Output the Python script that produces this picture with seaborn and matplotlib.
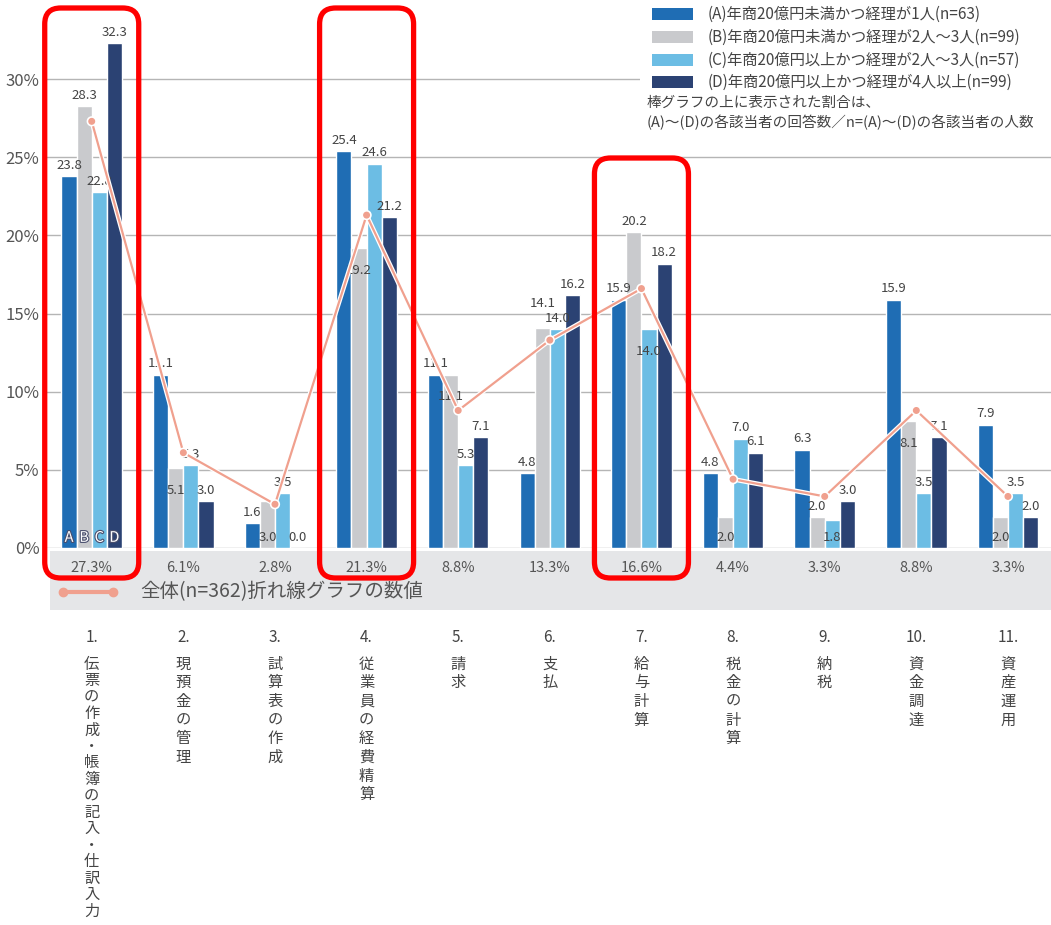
import numpy as np
import pandas as pd
import matplotlib
matplotlib.use("Agg")
import matplotlib.pyplot as plt
import matplotlib.patheffects as pe
from matplotlib import transforms
from matplotlib.patches import Rectangle, FancyBboxPatch
from matplotlib.lines import Line2D
import seaborn as sns

# ---------------- data ----------------
categories = ["1.伝票の作成・帳簿の記入・仕訳入力", "2.現預金の管理", "3.試算表の作成",
              "4.従業員の経費精算", "5.請求", "6.支払", "7.給与計算", "8.税金の計算",
              "9.納税", "10.資金調達", "11.資産運用"]
cat_nums = ["1.", "2.", "3.", "4.", "5.", "6.", "7.", "8.", "9.", "10.", "11."]
cat_names = ["伝票の作成・帳簿の記入・仕訳入力", "現預金の管理", "試算表の作成",
             "従業員の経費精算", "請求", "支払", "給与計算", "税金の計算",
             "納税", "資金調達", "資産運用"]
groups = ["A", "B", "C", "D"]
group_labels = ["(A)年商20億円未満かつ経理が1人(n=63)",
                "(B)年商20億円未満かつ経理が2人〜3人(n=99)",
                "(C)年商20億円以上かつ経理が2人〜3人(n=57)",
                "(D)年商20億円以上かつ経理が4人以上(n=99)"]
values_A = [23.8, 11.1, 1.6, 25.4, 11.1, 4.8, 15.9, 4.8, 6.3, 15.9, 7.9]
values_B = [28.3, 5.1, 3.0, 19.2, 11.1, 14.1, 20.2, 2.0, 2.0, 8.1, 2.0]
values_C = [22.8, 5.3, 3.5, 24.6, 5.3, 14.0, 14.0, 7.0, 1.8, 3.5, 3.5]
values_D = [32.3, 3.0, 0.0, 21.2, 7.1, 16.2, 18.2, 6.1, 3.0, 7.1, 2.0]
overall = [27.3, 6.1, 2.8, 21.3, 8.8, 13.3, 16.6, 4.4, 3.3, 8.8, 3.3]
yticks = [0, 5, 10, 15, 20, 25, 30]
highlight = [0, 3, 6]
overall_label = "全体(n=362)折れ線グラフの数値"
note_lines = ["棒グラフの上に表示された割合は、",
              "(A)〜(D)の各該当者の回答数／n=(A)〜(D)の各該当者の人数"]

# style: which value labels sit inside their bar / are raised (category index, group)
inside_labels = {(1, "B"), (2, "B"), (3, "B"), (4, "B"), (6, "C"),
                 (7, "B"), (8, "C"), (9, "B"), (10, "B")}
raised_labels = {(5, "B")}

colors = ["#1f6db4", "#c9cacd", "#6cbde4", "#2b4273"]
line_color = "#f0a08e"
text_color = "#444444"

# ---------------- setup ----------------
sns.set_theme(style="white")
plt.rcParams["font.family"] = ["Noto Sans CJK JP", "DejaVu Sans"]

W, H = 1051, 925
fig = plt.figure(figsize=(W / 100, H / 100), dpi=100)
fig.patch.set_facecolor("white")


def fx(x):
    return x / W


def fy(y):
    return 1 - y / H


ax = fig.add_axes([fx(45), fy(548), 1 - fx(45), 547 / H])
ax.set_facecolor("none")

df = pd.DataFrame({
    "cat": np.repeat(categories, 4),
    "group": groups * len(categories),
    "value": np.ravel(np.column_stack([values_A, values_B, values_C, values_D])),
})

sns.barplot(data=df, x="cat", y="value", hue="group", order=categories,
            hue_order=groups, palette=colors, saturation=1, width=0.66,
            ax=ax, legend=False, zorder=2)

ax.set_ylim(0, 35)
ax.set_xlim(-0.51, len(categories) - 0.53)
ax.set_yticks(yticks)
ax.set_yticklabels([f"{t}%" for t in yticks], fontsize=12, color="#555555")
ax.tick_params(axis="y", length=0, pad=4)
ax.tick_params(axis="x", length=0, labelbottom=False)
ax.set_xlabel("")
ax.set_ylabel("")
ax.yaxis.grid(True, color="#b5b5b5", linewidth=1.0, zorder=0)
ax.set_axisbelow(True)
for s in ax.spines.values():
    s.set_visible(False)

# bar value labels
for cont, g in zip(ax.containers, groups):
    for i, bar in enumerate(cont.patches):
        v = bar.get_height()
        xc = bar.get_x() + bar.get_width() / 2
        if (i, g) in inside_labels:
            if v >= 5:
                ax.text(xc, v - 1.0, f"{v:.1f}", ha="center", va="top",
                        fontsize=9.5, color=text_color, zorder=4)
            else:
                ax.text(xc, 0.25, f"{v:.1f}", ha="center", va="bottom",
                        fontsize=9.5, color=text_color, zorder=4)
        else:
            pad = 13 if (i, g) in raised_labels else 3
            ax.annotate(f"{v:.1f}", (xc, v), xytext=(0, pad), textcoords="offset points",
                        ha="center", va="bottom", fontsize=9.5, color=text_color,
                        zorder=4)

# A B C D letters in first group
for cont, g in zip(ax.containers, groups):
    bar = cont.patches[0]
    ax.text(bar.get_x() + bar.get_width() / 2, 0.65, g, ha="center", va="center",
            fontsize=10.5, color="white", zorder=5,
            path_effects=[pe.withStroke(linewidth=1.6, foreground="#4a4f6e")])

# overall line
xpos = np.arange(len(categories))
ax.plot(xpos, overall, color=line_color, linewidth=1.6, marker="o", markersize=4,
        zorder=6, path_effects=[pe.Stroke(linewidth=3.4, foreground="white"), pe.Normal()])

# band below axis
fig.patches.append(Rectangle((fx(50), fy(610)), 1 - fx(50), (610 - 551) / H,
                             transform=fig.transFigure, facecolor="#e5e6e8",
                             edgecolor="none", zorder=-1))
bt = transforms.blended_transform_factory(ax.transData, fig.transFigure)
for i, v in enumerate(overall):
    fig.text(i, fy(568), f"{v}%", transform=bt, ha="center", va="center",
             fontsize=10.5, color="#555555")
fig.add_artist(Line2D([fx(63), fx(113)], [fy(592), fy(592)], transform=fig.transFigure,
                      color=line_color, linewidth=3, marker="o", markersize=6))
fig.text(fx(140), fy(592), overall_label, ha="left", va="center",
         fontsize=14, color="#555555")

# vertical category labels
for i, (num, name) in enumerate(zip(cat_nums, cat_names)):
    fig.text(i, fy(637), num, transform=bt, ha="center", va="center",
             fontsize=11, color=text_color)
    n = len(name)
    step = min(18.7, (912 - 665) / max(n - 1, 1))
    for k, ch in enumerate(name):
        fig.text(i, fy(664 + k * step), ch, transform=bt, ha="center", va="center",
                 fontsize=11, color=text_color)

# legend (top right) with white background
fig.patches.append(Rectangle((fx(640), fy(135)), 1 - fx(640), 135 / H,
                             transform=fig.transFigure, facecolor="white",
                             edgecolor="none", zorder=1))
row_y = [14, 37, 60, 82]
for c, lab, yy in zip(colors, group_labels, row_y):
    fig.patches.append(Rectangle((fx(652), fy(yy + 6)), fx(693) - fx(652), 12 / H,
                                 transform=fig.transFigure, facecolor=c,
                                 edgecolor="none", zorder=2))
    fig.text(fx(708), fy(yy), lab, ha="left", va="center", fontsize=11,
             color=text_color, zorder=3)
for k, line in enumerate(note_lines):
    fig.text(fx(647), fy(103 + 19 * k), line, ha="left", va="center", fontsize=10.5,
             color=text_color, zorder=3)

# red rounded highlight boxes (pixel coordinates)
box_tops = {0: 8, 3: 8, 6: 158}
fig.canvas.draw()
for i in highlight:
    xc = ax.transData.transform((i, 0))[0]
    x0, x1 = xc - 47, xc + 47
    top = box_tops[i]
    y0d, y1d = H - 578, H - top
    box = FancyBboxPatch((x0, y0d), x1 - x0, y1d - y0d,
                         boxstyle="round,pad=0,rounding_size=16",
                         transform=transforms.IdentityTransform(),
                         facecolor="none", edgecolor="#ff0000", linewidth=3.8,
                         zorder=10)
    fig.patches.append(box)

fig.savefig("out.png", dpi=100)
